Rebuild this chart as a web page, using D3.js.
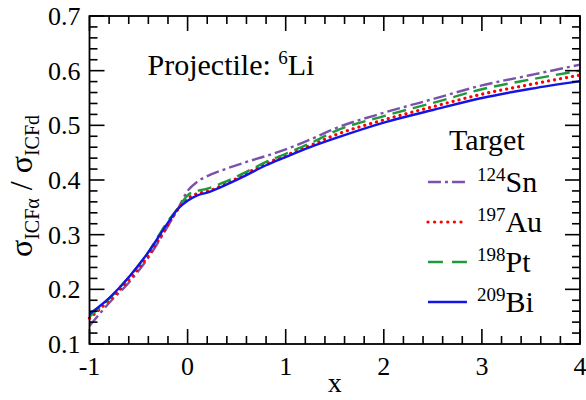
<!DOCTYPE html>
<html>
<head>
<meta charset="utf-8">
<script src="https://cdn.jsdelivr.net/npm/d3@7"></script>
<style>
  body { margin: 0; background: #fff; }
</style>
</head>
<body>
<script>
// x grid and series values
const xs = [-1, -0.8, -0.6, -0.4, -0.2, -0.1, 0, 0.1, 0.2, 0.4, 0.6, 0.8, 1, 1.25, 1.5, 2, 2.5, 3, 3.5, 4];
const sn = [0.133, 0.175, 0.212, 0.258, 0.316, 0.347, 0.380, 0.397, 0.407, 0.421, 0.433, 0.444, 0.456, 0.474, 0.494, 0.523, 0.548, 0.573, 0.592, 0.611];
const au = [0.147, 0.180, 0.217, 0.262, 0.318, 0.346, 0.366, 0.375, 0.379, 0.394, 0.412, 0.430, 0.445, 0.463, 0.482, 0.510, 0.534, 0.557, 0.575, 0.592];
const pt = [0.150, 0.183, 0.222, 0.268, 0.325, 0.348, 0.372, 0.380, 0.384, 0.398, 0.415, 0.433, 0.448, 0.467, 0.489, 0.517, 0.541, 0.566, 0.584, 0.600];
const bi = [0.155, 0.184, 0.222, 0.268, 0.322, 0.347, 0.362, 0.372, 0.377, 0.392, 0.409, 0.427, 0.442, 0.460, 0.476, 0.505, 0.528, 0.550, 0.567, 0.581];

const xTicks = [-1, 0, 1, 2, 3, 4];
const yTicks = [0.1, 0.2, 0.3, 0.4, 0.5, 0.6, 0.7];

const series = [
  { mass: "124", el: "Sn", values: sn, color: "#7b52ab", dash: "13,4,3,4", key: "13,4,3,4", cap: "butt" },
  { mass: "197", el: "Au", values: au, color: "#ff0000", dash: "0.1,6", key: "0.1,6.5", cap: "round" },
  { mass: "198", el: "Pt", values: pt, color: "#1f9a3a", dash: "14,7", key: "15,9", cap: "butt" },
  { mass: "209", el: "Bi", values: bi, color: "#1414e6", dash: null, key: null, cap: "butt" }
];

const FONT = "Liberation Serif";

const W = 586, H = 400;
const margin = { top: 16, right: 6, bottom: 56, left: 89.5 };
const width = W - margin.left - margin.right;
const height = H - margin.top - margin.bottom;

const svg = d3.select("body").append("svg")
    .attr("width", W)
    .attr("height", H);

const g = svg.append("g")
    .attr("transform", `translate(${margin.left},${margin.top})`);

const x = d3.scaleLinear().domain([-1, 4]).range([0, width]);
const y = d3.scaleLinear().domain([0.1, 0.7]).range([height, 0]);

// curves
const line = d3.line()
    .x(d => x(d[0]))
    .y(d => y(d[1]))
    .curve(d3.curveMonotoneX);

series.forEach(s => {
  g.append("path")
      .datum(xs.map((v, i) => [v, s.values[i]]))
      .attr("d", line)
      .attr("fill", "none")
      .attr("stroke", s.color)
      .attr("stroke-width", s.cap === "round" ? 3.2 : 2.4)
      .attr("stroke-linecap", s.cap)
      .attr("stroke-dasharray", s.dash);
});

// ticks on all four sides, pointing inward
const major = 15, minor = 8;
const xMinor = d3.range(-1, 4.001, 0.2);
const yMinor = d3.range(0.1, 0.7001, 0.02);
const tickStyle = sel => sel.attr("stroke", "#000").attr("stroke-width", 1.6);

xMinor.forEach(v => {
  const isMajor = Math.abs(v - Math.round(v)) < 1e-6;
  const len = isMajor ? major : minor;
  g.append("line").attr("x1", x(v)).attr("x2", x(v)).attr("y1", height).attr("y2", height - len).call(tickStyle);
  g.append("line").attr("x1", x(v)).attr("x2", x(v)).attr("y1", 0).attr("y2", len).call(tickStyle);
});
yMinor.forEach(v => {
  const isMajor = Math.abs(v * 10 - Math.round(v * 10)) < 1e-6;
  const len = isMajor ? major : minor;
  g.append("line").attr("y1", y(v)).attr("y2", y(v)).attr("x1", 0).attr("x2", len).call(tickStyle);
  g.append("line").attr("y1", y(v)).attr("y2", y(v)).attr("x1", width).attr("x2", width - len).call(tickStyle);
});

// frame
g.append("rect")
    .attr("width", width)
    .attr("height", height)
    .attr("fill", "none")
    .attr("stroke", "#000")
    .attr("stroke-width", 1.8);

// tick labels
g.selectAll(".xl").data(xTicks).enter().append("text")
    .attr("x", d => x(d))
    .attr("y", height + 31)
    .attr("text-anchor", "middle")
    .attr("font-family", FONT)
    .attr("font-size", 26)
    .text(d => d);

g.selectAll(".yl").data(yTicks).enter().append("text")
    .attr("x", -9)
    .attr("y", d => y(d) + 9)
    .attr("text-anchor", "end")
    .attr("font-family", FONT)
    .attr("font-size", 26)
    .text(d => d.toFixed(1));

// axis titles
g.append("text")
    .attr("x", width / 2)
    .attr("y", height + 48)
    .attr("text-anchor", "middle")
    .attr("font-family", FONT)
    .attr("font-size", 28)
    .text("x");

const yt = svg.append("text")
    .attr("transform", `translate(32,${margin.top + 170}) rotate(-90)`)
    .attr("text-anchor", "middle")
    .attr("font-family", FONT)
    .attr("font-size", 32);
yt.append("tspan").text("σ");
yt.append("tspan").attr("dy", 7).attr("font-size", 20).text("ICFα");
yt.append("tspan").attr("dy", -7).text(" / σ");
yt.append("tspan").attr("dy", 7).attr("font-size", 20).text("ICFd");

// annotation
const pj = g.append("text")
    .attr("x", 58)
    .attr("y", 59)
    .attr("font-family", FONT)
    .attr("font-size", 30);
pj.append("tspan").text("Projectile: ");
pj.append("tspan").attr("dy", -11).attr("font-size", 19).text("6");
pj.append("tspan").attr("dy", 11).text("Li");

// legend
const lg = g.append("g").attr("transform", `translate(${x(2.45)},0)`);
lg.append("text")
    .attr("x", 59)
    .attr("y", 134)
    .attr("text-anchor", "middle")
    .attr("font-family", FONT)
    .attr("font-size", 30)
    .text("Target");

series.forEach((s, i) => {
  const yy = 166 + i * 40;
  lg.append("line")
      .attr("x1", 0).attr("x2", 39)
      .attr("y1", yy).attr("y2", yy)
      .attr("stroke", s.color)
      .attr("stroke-width", s.cap === "round" ? 3.2 : 2.4)
      .attr("stroke-linecap", s.cap)
      .attr("stroke-dasharray", s.key);
  const t = lg.append("text")
      .attr("x", 49)
      .attr("y", yy + 10)
      .attr("font-family", FONT)
      .attr("font-size", 30);
  t.append("tspan").attr("dy", -11).attr("font-size", 19).text(s.mass);
  t.append("tspan").attr("dy", 11).text(s.el);
});
</script>
</body>
</html>
